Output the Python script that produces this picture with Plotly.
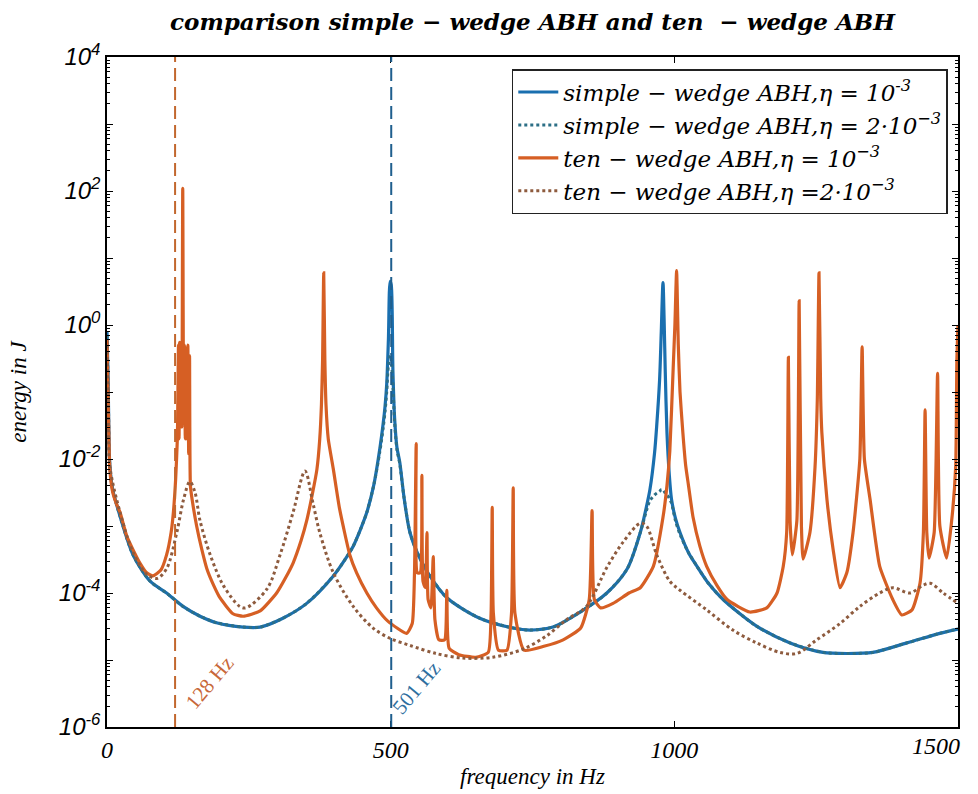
import plotly.graph_objects as go

# ---------------- data ----------------
simple_f = [0, 2, 5, 10, 23, 46, 76, 105, 134, 164, 193, 240, 270, 310, 352, 399, 420, 434, 447, 458,
            470, 481, 487, 490, 493, 496, 499, 501, 504, 507, 511, 516, 524, 534, 550, 569, 599, 657, 716,
            746, 786, 834, 881, 917, 940, 950, 957, 965, 969, 974, 977, 980, 982, 984, 987, 991, 995, 1002,
            1010, 1025, 1040, 1060, 1086, 1145, 1204, 1262, 1304, 1350, 1410, 1468, 1500]
simple_eta1 = [0.8, 0.15, 8e-3, 3.5e-3, 1.4e-3, 3.7e-4, 1.5e-4, 1.0e-4, 6.3e-5, 4.5e-5, 3.6e-5, 3.1e-5,
               3.1e-5, 4.2e-5, 7.0e-5, 1.8e-4, 3.2e-4, 5e-4, 9e-4, 1.6e-3, 4e-3, 1.45e-2, 0.035, 0.06,
               0.13, 0.6, 4.5, 4.0, 0.2, 0.04, 0.015, 9e-3, 2.5e-3, 8e-4, 3.5e-4, 1.8e-4, 8.5e-5, 4.2e-5,
               3.0e-5, 2.8e-5, 3.1e-5, 5.2e-5, 1.0e-4, 2.3e-4, 8e-4, 1.8e-3, 3.5e-3, 0.012, 0.032, 0.15,
               0.8, 4.3, 1.2, 0.2, 0.025, 6e-3, 2.5e-3, 1.3e-3, 8e-4, 4e-4, 2.5e-4, 1.4e-4, 8e-5, 3.2e-5,
               1.8e-5, 1.3e-5, 1.25e-5, 1.3e-5, 1.8e-5, 2.5e-5, 2.9e-5]
simple_eta2 = [0.7, 0.14, 8e-3, 3.5e-3, 1.4e-3, 3.7e-4, 1.5e-4, 1.0e-4, 6.3e-5, 4.5e-5, 3.6e-5, 3.1e-5,
               3.1e-5, 4.2e-5, 7.0e-5, 1.8e-4, 3.2e-4, 5e-4, 9e-4, 1.6e-3, 4e-3, 1.3e-2, 0.03, 0.05,
               0.1, 0.25, 0.35, 0.3, 0.12, 0.035, 0.014, 8.5e-3, 2.5e-3, 8e-4, 3.5e-4, 1.8e-4, 8.5e-5, 4.2e-5,
               3.0e-5, 2.8e-5, 3.1e-5, 5.2e-5, 1.0e-4, 2.3e-4, 8e-4, 1.6e-3, 2.4e-3, 2.9e-3, 3.1e-3, 3.3e-3,
               3.5e-3, 3.5e-3, 3.3e-3, 3.1e-3, 2.9e-3, 2.6e-3, 2.2e-3, 1.2e-3, 7.5e-4, 4e-4, 2.5e-4, 1.4e-4,
               8e-5, 3.2e-5, 1.8e-5, 1.3e-5, 1.25e-5, 1.3e-5, 1.8e-5, 2.5e-5, 2.9e-5]

ten_f = [0, 1, 3, 5, 10, 16, 23, 35, 46, 58, 70, 81, 95, 105, 113, 117, 121, 124, 126, 127, 128, 129.5,
         131, 132, 133.5, 135, 136.5, 138, 139.5, 141, 142.5, 144, 145.5, 147, 150, 158, 167, 176, 188,
         199, 222, 240, 270, 299, 315, 328, 342, 352, 362, 370, 375, 378, 380, 382, 384, 386, 390, 399,
         410, 428, 440, 458, 475, 495, 528, 538, 542, 545, 547, 552, 555, 557, 561, 564, 566, 571, 575,
         578, 585, 595, 599, 603, 620, 650, 672, 677, 679, 681, 690, 705, 713, 716, 719, 735, 770, 804,
         835, 850, 855, 859, 870, 892, 920, 940, 963, 980, 987, 992, 998, 1001, 1004, 1007, 1010, 1015,
         1020, 1025, 1033, 1045, 1057, 1075, 1093, 1133, 1163, 1181, 1192, 1198, 1201, 1204, 1208, 1216,
         1220, 1224, 1227, 1239, 1248, 1252, 1255, 1258, 1260, 1269, 1280, 1292, 1304, 1315, 1327, 1331,
         1335, 1345, 1362, 1385, 1401, 1419, 1433, 1439, 1442, 1445, 1449, 1458, 1464, 1468, 1480, 1490,
         1496, 1498, 1500]
ten_eta1 = [0.6, 0.2, 0.03, 7e-3, 3.2e-3, 2.2e-3, 1.6e-3, 7e-4, 4.4e-4, 2.8e-4, 2.0e-4, 1.8e-4, 2.2e-4,
            3.7e-4, 8e-4, 1.6e-3, 5e-3, 0.02, 0.5, 0.02, 0.55, 0.03, 0.5, 0.03, 110, 0.05, 0.5, 0.02,
            0.45, 0.02, 0.5, 0.012, 0.35, 4e-3, 2.5e-3, 1.0e-3, 4.5e-4, 2.3e-4, 1.3e-4, 8.5e-5, 4.9e-5,
            4.5e-5, 5.4e-5, 1.0e-4, 1.7e-4, 2.8e-4, 6e-4, 1.2e-3, 3e-3, 7e-3, 0.02, 0.065, 0.3, 6.0, 0.3,
            0.065, 0.02, 7e-3, 1.8e-3, 3.7e-4, 2e-4, 1.0e-4, 6e-5, 3.8e-5, 2.5e-5, 3.5e-5, 2e-4, 0.017,
            2e-4, 2e-4, 5.7e-3, 1.5e-4, 1.2e-4, 8e-4, 8e-5, 6e-5, 3.5e-4, 4e-5, 2e-5, 2e-5, 1.1e-4, 1.5e-5,
            1.2e-5, 1.1e-5, 1.3e-5, 5e-5, 1.9e-3, 5e-5, 1.4e-5, 1.4e-5, 5e-5, 3.7e-3, 5e-5, 1.4e-5, 1.6e-5,
            2e-5, 3e-5, 8e-5, 1.7e-3, 8e-5, 6e-5, 7e-5, 1e-4, 1.2e-4, 2.5e-4, 1.35e-3, 4e-3, 0.013, 0.23,
            1.0, 6.5, 0.5, 0.1, 0.025, 8e-3, 4e-3, 1.35e-3, 5e-4, 2.5e-4, 1.3e-4, 8e-5, 5.2e-5, 6e-5, 1e-4,
            2.5e-4, 8e-4, 0.33, 1.2e-3, 3.7e-4, 1.2e-3, 2.3, 1.0e-3, 3.2e-4, 8e-4, 7.6e-3, 0.076, 6.0,
            0.08, 0.025, 2.5e-3, 4.4e-4, 1.2e-4, 2e-4, 8e-4, 0.01, 0.47, 0.01, 2.5e-3, 2.5e-4, 8e-5,
            4.7e-5, 5.6e-5, 1.4e-4, 8e-4, 0.054, 8e-4, 3.3e-4, 8e-4, 0.19, 1e-3, 3.3e-4, 1.5e-3, 8e-3, 0.3,
            1.0]

tend_f = [0, 2, 5, 23, 46, 70, 88, 105, 123, 135, 146, 155, 164, 182, 205, 234, 245, 282, 305, 328, 349,
          363, 375, 399, 434, 469, 499, 534, 580, 627, 680, 733, 775, 810, 845, 881, 910, 940, 951, 969,
          992, 1010, 1057, 1103, 1145, 1186, 1216, 1251, 1292, 1327, 1362, 1385, 1415, 1438, 1451, 1474,
          1500]
ten_eta2 = [0.5, 0.1, 7.9e-3, 1.6e-3, 4e-4, 1.9e-4, 1.65e-4, 2.3e-4, 8e-4, 2.5e-3, 4.6e-3, 3.2e-3, 1.2e-3,
            3.7e-4, 1.3e-4, 6.3e-5, 6e-5, 1.15e-4, 3.7e-4, 1.6e-3, 6.6e-3, 2.2e-3, 8e-4, 2e-4, 6.3e-5,
            3e-5, 2.1e-5, 1.65e-5, 1.25e-5, 1.07e-5, 1.1e-5, 1.45e-5, 2.3e-5, 4e-5, 6.3e-5, 2.4e-4, 5.8e-4,
            1.1e-3, 1.0e-3, 3.7e-4, 1.5e-4, 1.1e-4, 5.6e-5, 2.8e-5, 1.8e-5, 1.3e-5, 1.25e-5, 2e-5, 3.5e-5,
            6.3e-5, 1.0e-4, 1.2e-4, 1.0e-4, 1.3e-4, 1.4e-4, 1.0e-4, 7e-5]

marker_freqs = [120, 501]
marker_labels = ["128 Hz", "501 Hz"]

series_names = ["simple − wedge ABH,η = 10<sup>-3</sup>",
                "simple − wedge ABH,η = 2·10<sup>−3</sup>",
                "ten − wedge ABH,η = 10<sup>−3</sup>",
                "ten − wedge ABH,η =2·10<sup>−3</sup>"]

x_ticks = [0, 500, 1000, 1500]
x_ticktext = ["0", "500", "1000", ""]   # last label drawn right-aligned below (as in the reference)
x_last_label = "1500"
y_exponents = [-6, -5, -4, -3, -2, -1, 0, 1, 2, 3, 4]

# ---------------- styling ----------------
BLUE = "#1A6FAF"
BLUE_DOT = "#2C6F86"
ORANGE = "#D65F24"
BROWN_DOT = "#8E5B3E"
SERIF = "DejaVu Serif"
TICK_FONT = dict(family="Liberation Serif", size=24, color="black", style="italic")

fig = go.Figure()
fig.add_trace(go.Scatter(x=simple_f, y=simple_eta1, mode="lines", name="<i>" + series_names[0] + "</i>",
                         line=dict(color=BLUE, width=3.2, shape="spline", smoothing=0.8)))
fig.add_trace(go.Scatter(x=simple_f, y=simple_eta2, mode="lines", name="<i>" + series_names[1] + "</i>",
                         line=dict(color=BLUE_DOT, width=3, dash="dot", shape="spline", smoothing=0.8)))
fig.add_trace(go.Scatter(x=ten_f, y=ten_eta1, mode="lines", name="<i>" + series_names[2] + "</i>",
                         line=dict(color=ORANGE, width=3.2, shape="spline", smoothing=0.5)))
fig.add_trace(go.Scatter(x=tend_f, y=ten_eta2, mode="lines", name="<i>" + series_names[3] + "</i>",
                         line=dict(color=BROWN_DOT, width=3, dash="dot", shape="spline", smoothing=0.9)))

line_colors = ["#C2672E", "#1F5F8E"]
label_colors = ["#C8683A", "#2F6F9F"]
label_pos = [(180, -5.34), (545, -5.42)]
for fx, lab, lc, tc, (ax_, ay_) in zip(marker_freqs, marker_labels, line_colors, label_colors, label_pos):
    fig.add_shape(type="line", xref="x", yref="paper", x0=fx, x1=fx, y0=0, y1=1,
                  line=dict(color=lc, width=2, dash="13px,6px"))
    fig.add_annotation(x=ax_, y=ay_, xref="x", yref="y", text=lab, showarrow=False, textangle=-50,
                       font=dict(family="Liberation Serif", size=21, color=tc))

fig.add_annotation(x=x_ticks[-1], y=0, xref="x", yref="paper", text="<i>%s</i>" % x_last_label,
                   showarrow=False, xanchor="right", yanchor="top", xshift=4, yshift=-4,
                   font=TICK_FONT)

tickvals = [10.0 ** e for e in y_exponents]
ticktext = [("10<sup>%d</sup>" % e) if e % 2 == 0 else "" for e in y_exponents]
minor_vals = [k * 10.0 ** e for e in y_exponents[:-1] for k in range(2, 10)]

fig.update_layout(
    width=978, height=794,
    margin=dict(l=107, r=20, t=57, b=67, autoexpand=False),
    paper_bgcolor="white", plot_bgcolor="white",
    title=dict(text="comparison simple − wedge ABH and ten  − wedge ABH", x=0.5, xref="paper",
               y=0.972, yanchor="middle",
               font=dict(family=SERIF, size=23, color="black", style="italic", weight="bold")),
    legend=dict(x=0.988, y=0.982, xanchor="right", yanchor="top", bgcolor="white",
                bordercolor="#222222", borderwidth=1.5,
                font=dict(family=SERIF, size=23, color="black"), itemwidth=40),
    showlegend=True,
)
fig.update_xaxes(range=[0, 1500], tickmode="array", tickvals=x_ticks, ticktext=x_ticktext,
                 ticks="inside", ticklen=6, tickcolor="black", automargin=False,
                 showline=True, linecolor="black", linewidth=1.5, mirror="allticks", showgrid=False,
                 zeroline=False,
                 tickfont=TICK_FONT,
                 title=dict(text="frequency in Hz", standoff=6,
                            font=dict(family="Liberation Serif", size=23, color="black", style="italic")))
fig.update_yaxes(type="log", range=[-6, 4], tickmode="array", tickvals=tickvals, ticktext=ticktext,
                 ticks="inside", ticklen=6, tickcolor="black", automargin=False,
                 minor=dict(tickvals=minor_vals, ticks="inside", ticklen=3, tickcolor="black", showgrid=False),
                 showline=True, linecolor="black", linewidth=1.5, mirror="allticks", showgrid=False,
                 zeroline=False,
                 tickfont=dict(family="Liberation Sans", size=24, color="black", style="italic"),
                 title=dict(text="energy in J", standoff=26,
                            font=dict(family="Liberation Serif", size=23, color="black", style="italic")))

fig.write_html("out.html")
